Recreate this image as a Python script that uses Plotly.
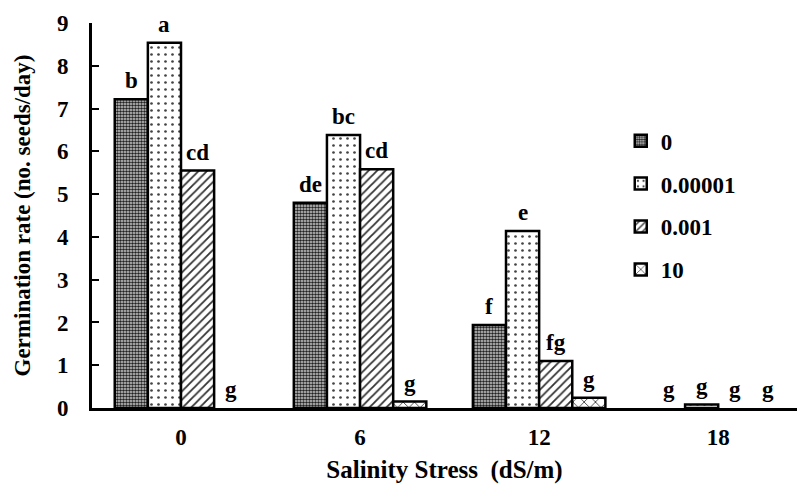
import plotly.graph_objects as go

categories = ["0", "6", "12", "18"]
series_names = ["0", "0.00001", "0.001", "10"]
values = [
    [7.22, 4.80, 1.94, 0.0],
    [8.54, 6.38, 4.14, 0.08],
    [5.55, 5.58, 1.10, 0.0],
    [0.0, 0.15, 0.24, 0.0],
]
letters = [
    ["b", "de", "f", "g"],
    ["a", "bc", "e", "g"],
    ["cd", "cd", "fg", "g"],
    ["g", "g", "g", "g"],
]

FONT = "Liberation Serif"
FS = 23
patterns = [
    dict(shape=".", size=3, solidity=0.55, fgcolor="#222222", bgcolor="#d0d0d0", fillmode="replace"),
    dict(shape=".", size=7, solidity=0.12, fgcolor="#444444", bgcolor="white", fillmode="replace"),
    dict(shape="/", size=6, solidity=0.3, fgcolor="#333333", bgcolor="white", fillmode="replace"),
    dict(shape="x", size=8, solidity=0.2, fgcolor="#333333", bgcolor="white", fillmode="replace"),
]

bargap = 0.26
w = (1 - bargap) / len(series_names)
xs = list(range(len(categories)))

fig = go.Figure()
for j, name in enumerate(series_names):
    fig.add_trace(go.Bar(
        x=xs, y=[v if v > 0 else None for v in values[j]], name=name, legendgroup=name,
        marker=dict(color="white", pattern=patterns[j], line=dict(color="black", width=2.5)),
    ))

annotations = []
for j in range(len(series_names)):
    for i in xs:
        annotations.append(dict(
            x=i + (j - 1.5) * w, y=values[j][i], xref="x", yref="y",
            text=letters[j][i], showarrow=False, yanchor="bottom", yshift=4,
            font=dict(family=FONT, size=FS, color="black", weight="bold"),
        ))

fig.update_layout(
    width=797, height=491,
    margin=dict(l=92, r=0, t=23, b=83),
    plot_bgcolor="white", paper_bgcolor="white",
    barmode="group", bargap=bargap, bargroupgap=0,
    font=dict(family=FONT, size=FS, color="black", weight="bold"),
    showlegend=True,
    legend=dict(x=0.75, y=0.75, xanchor="left", yanchor="top",
                font=dict(family=FONT, size=FS, weight="bold"),
                tracegroupgap=10, bgcolor="rgba(0,0,0,0)", itemwidth=30),
    annotations=annotations,
)
fig.update_xaxes(
    range=[-0.497, 3.44], tickvals=xs, ticktext=categories,
    showline=True, linecolor="black", linewidth=3, ticks="",
    showgrid=False, zeroline=False, ticklabelstandoff=6,
    tickfont=dict(family=FONT, size=FS, weight="bold"),
    title=dict(text="Salinity Stress  (dS/m)", standoff=12,
               font=dict(family=FONT, size=25, weight="bold")),
)
fig.update_yaxes(
    range=[0, 9], dtick=1,
    showline=True, linecolor="black", linewidth=3,
    ticks="inside", ticklen=7, tickwidth=2, tickcolor="black",
    showgrid=False, zeroline=False, ticklabelstandoff=16,
    tickfont=dict(family=FONT, size=FS, weight="bold"),
    title=dict(text="Germination rate (no. seeds/day)", standoff=20,
               font=dict(family=FONT, size=FS, weight="bold")),
)

fig.write_html("out.html")
